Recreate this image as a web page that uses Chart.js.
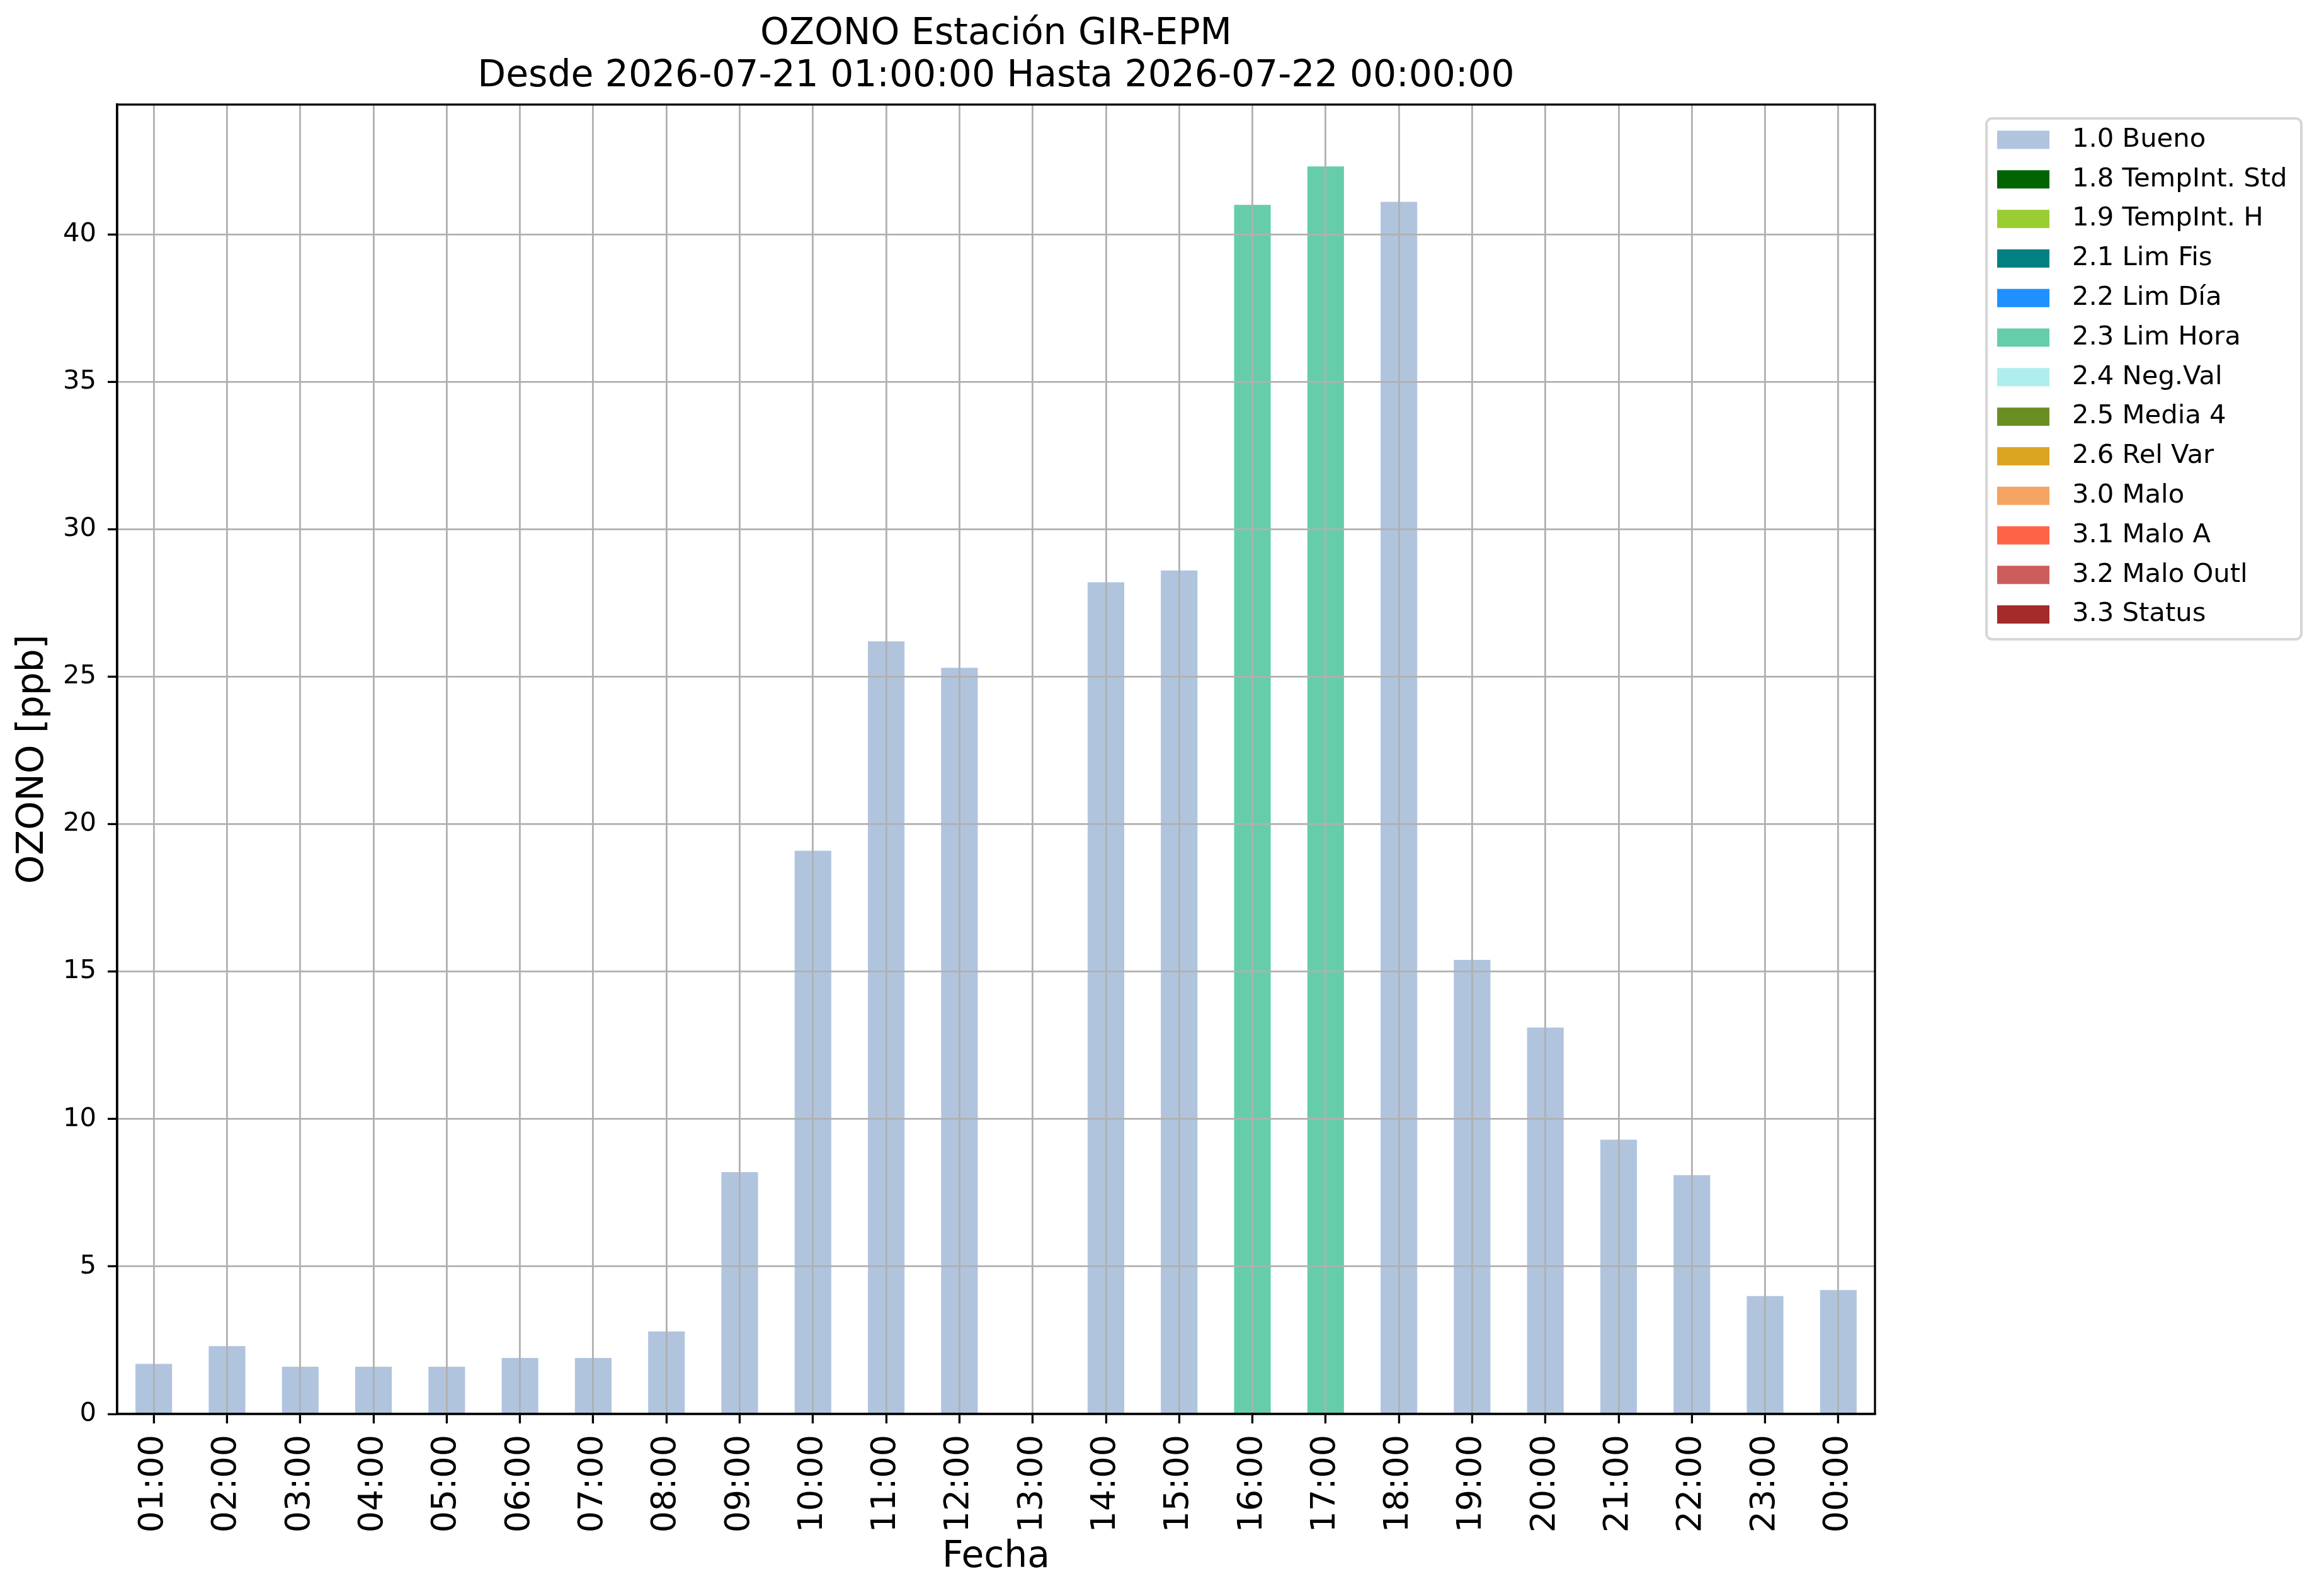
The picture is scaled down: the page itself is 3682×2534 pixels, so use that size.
<!DOCTYPE html>
<html>
<head>
<meta charset="utf-8">
<title>OZONO Estación GIR-EPM</title>
<script src="https://cdn.jsdelivr.net/npm/chart.js@4.4.1/dist/chart.umd.min.js"></script>
<style>
  html, body { margin: 0; padding: 0; background: #fff; }
  canvas { display: block; }
</style>
</head>
<body>
<canvas id="ozonoChart" width="3682" height="2534" style="width:3682px;height:2534px"></canvas>
<script>
// horas del día (eje x)
const hours = ['01:00', '02:00', '03:00', '04:00', '05:00', '06:00', '07:00', '08:00',
  '09:00', '10:00', '11:00', '12:00', '13:00', '14:00', '15:00', '16:00',
  '17:00', '18:00', '19:00', '20:00', '21:00', '22:00', '23:00', '00:00'];

// valores con bandera 1.0 Bueno
const buenoValues = [1.7, 2.3, 1.6, 1.6, 1.6, 1.9, 1.9, 2.8, 8.2, 19.1, 26.2, 25.3,
  null, 28.2, 28.6, null, null, 41.1, 15.4, 13.1, 9.3, 8.1, 4.0, 4.2];

// valores con bandera 2.3 Lim Hora
const limHoraValues = [null, null, null, null, null, null, null, null, null, null, null, null,
  null, null, null, 41.0, 42.3, null, null, null, null, null, null, null];

const flagLabels = ['1.0 Bueno', '1.8 TempInt. Std', '1.9 TempInt. H', '2.1 Lim Fis',
  '2.2 Lim Día', '2.3 Lim Hora', '2.4 Neg.Val', '2.5 Media 4', '2.6 Rel Var',
  '3.0 Malo', '3.1 Malo A', '3.2 Malo Outl', '3.3 Status'];

const flagColors = ['#b0c4de', '#006400', '#9acd32', '#008080', '#1e90ff', '#66cdaa',
  '#afeeee', '#6b8e23', '#daa520', '#f4a460', '#ff6347', '#cd5c5c', '#a52a2a'];

const yMax = 44.4;
const yStep = 5;

const seriesByFlag = {
  '1.0 Bueno': buenoValues,
  '2.3 Lim Hora': limHoraValues
};

const datasets = flagLabels.map((label, i) => ({
  label: label,
  data: seriesByFlag[label] || hours.map(() => null),
  backgroundColor: flagColors[i],
  borderWidth: 0,
  barPercentage: 0.5,
  categoryPercentage: 1.0
}));

Chart.defaults.font.family = "'DejaVu Sans', sans-serif";
Chart.defaults.color = '#000';

// marco completo del área de gráfico (como los spines de matplotlib)
const framePlugin = {
  id: 'frame',
  afterDraw(chart) {
    const { ctx, chartArea: a } = chart;
    ctx.save();
    ctx.strokeStyle = '#000';
    ctx.lineWidth = 3.3;
    ctx.strokeRect(a.left, a.top, a.right - a.left, a.bottom - a.top);
    ctx.restore();
  }
};

// leyenda fuera del gráfico, a la derecha
const outsideLegend = {
  id: 'outsideLegend',
  afterDraw(chart) {
    const ctx = chart.ctx;
    const left = 3154, top = 188, right = 3654, bottom = 1015;
    ctx.save();
    ctx.fillStyle = 'rgba(255,255,255,0.8)';
    ctx.strokeStyle = '#d6d6d6';
    ctx.lineWidth = 4;
    ctx.beginPath();
    ctx.roundRect(left, top, right - left, bottom - top, 9);
    ctx.fill();
    ctx.stroke();
    ctx.font = "41.7px 'DejaVu Sans'";
    ctx.textBaseline = 'middle';
    ctx.textAlign = 'left';
    chart.data.datasets.forEach((ds, i) => {
      const cy = top + 34 + i * 62.8;
      ctx.fillStyle = ds.backgroundColor;
      ctx.fillRect(left + 17, cy - 14.5, 83, 29);
      ctx.fillStyle = '#000';
      ctx.fillText(ds.label, left + 136, cy);
    });
    ctx.restore();
  }
};

new Chart(document.getElementById('ozonoChart'), {
  type: 'bar',
  data: { labels: hours, datasets: datasets },
  options: {
    responsive: false,
    animation: false,
    devicePixelRatio: 1,
    layout: { padding: { left: 0, top: 0, right: 705, bottom: 0 } },
    plugins: {
      legend: { display: false },
      tooltip: { enabled: false },
      title: {
        display: true,
        fullSize: false,
        text: ['OZONO Estación GIR-EPM', 'Desde 2026-07-21 01:00:00 Hasta 2026-07-22 00:00:00'],
        color: '#000',
        font: { size: 58.3, weight: 'normal', lineHeight: 67 / 58.3 },
        padding: { top: 21.3, bottom: 10.7 }
      }
    },
    scales: {
      x: {
        stacked: true,
        offset: true,
        afterFit(scale) { scale.height = 289; },
        grid: {
          offset: false,
          color: '#b0b0b0',
          lineWidth: 2.8,
          tickColor: '#000',
          tickWidth: 3.3,
          tickLength: 15,
          z: 1
        },
        border: { display: true, color: '#000', width: 3.3, z: 2 },
        ticks: {
          autoSkip: false,
          minRotation: 90,
          maxRotation: 90,
          padding: 18,
          font: { size: 54 },
          color: '#000'
        },
        title: {
          display: true,
          text: 'Fecha',
          color: '#000',
          font: { size: 58.3 },
          padding: { top: 0, bottom: 26 }
        }
      },
      y: {
        stacked: true,
        min: 0,
        max: yMax,
        afterFit(scale) { scale.width = 186; },
        afterBuildTicks(scale) {
          scale.ticks = scale.ticks.filter(t => t.value % yStep === 0);
        },
        grid: {
          color: '#b0b0b0',
          lineWidth: 2.8,
          tickColor: '#000',
          tickWidth: 3.3,
          tickLength: 15,
          z: 1
        },
        border: { display: true, color: '#000', width: 3.3, z: 2 },
        ticks: {
          stepSize: yStep,
          padding: 18,
          font: { size: 41.7 },
          color: '#000'
        },
        title: {
          display: true,
          text: 'OZONO [ppb]',
          color: '#000',
          font: { size: 58.3 },
          padding: { top: 18, bottom: 0 }
        }
      }
    }
  },
  plugins: [framePlugin, outsideLegend]
});
</script>
</body>
</html>
